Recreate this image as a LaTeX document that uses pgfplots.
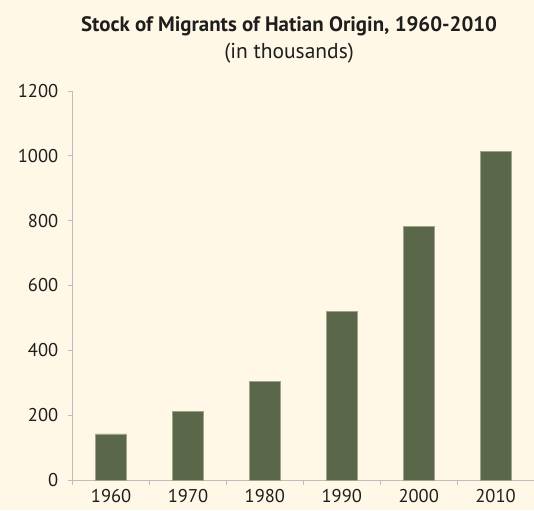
\documentclass[border=0pt]{standalone}
\usepackage{pgfplots}
\pgfplotsset{compat=1.18}
\usepackage{fontspec}
\setmainfont{PT Sans}
\definecolor{bg}{RGB}{255,248,230}
\definecolor{bar}{RGB}{90,103,73}
\definecolor{baredge}{RGB}{160,163,140}
\definecolor{axgray}{RGB}{190,190,190}
\definecolor{txt}{RGB}{30,30,30}
\begin{document}
\begin{tikzpicture}
\path[fill=bg] (0,0) rectangle (534pt,510pt);
\begin{axis}[
  at={(72.7pt,30pt)}, anchor=south west,
  scale only axis, width=461.3pt, height=389pt,
  xmin=-0.5, xmax=5.5, ymin=0, ymax=1200,
  axis x line*=bottom, axis y line*=left,
  axis line style={axgray, line width=0.8pt, -},
  xtick={0,1,2,3,4,5},
  xticklabels={1960,1970,1980,1990,2000,2010},
  minor xtick={-0.5,0.5,1.5,2.5,3.5,4.5,5.5},
  ytick={0,200,400,600,800,1000,1200},
  major x tick style={draw=none},
  minor x tick style={axgray, line width=0.8pt},
  y tick style={axgray, line width=0.8pt},
  tick align=outside,
  major tick length=5pt, minor tick length=5pt,
  /pgf/number format/assume math mode=true,
  /pgf/number format/1000 sep={},
  tick label style={font=\fontsize{18.5}{20}\selectfont, text=txt},
  yticklabel style={xshift=-6pt},
  xticklabel style={yshift=-1pt},
  clip=false,
]
\addplot[ybar, bar width=31pt, fill=bar, draw=baredge, line width=0.6pt]
  coordinates {(0,142) (1,211) (2,303) (3,519) (4,782) (5,1014)};
\node[anchor=base, font=\bfseries\fontsize{20.9}{24}\selectfont, text=txt] at (rel axis cs:0.469,1) [yshift=59pt] {Stock of Migrants of Hatian Origin, 1960-2010};
\node[anchor=base, font=\fontsize{21.5}{24}\selectfont, text=txt] at (rel axis cs:0.469,1) [yshift=32pt] {(in thousands)};
\end{axis}
\pgfresetboundingbox
\path (0,0) rectangle (534pt,510pt);
\end{tikzpicture}
\end{document}
